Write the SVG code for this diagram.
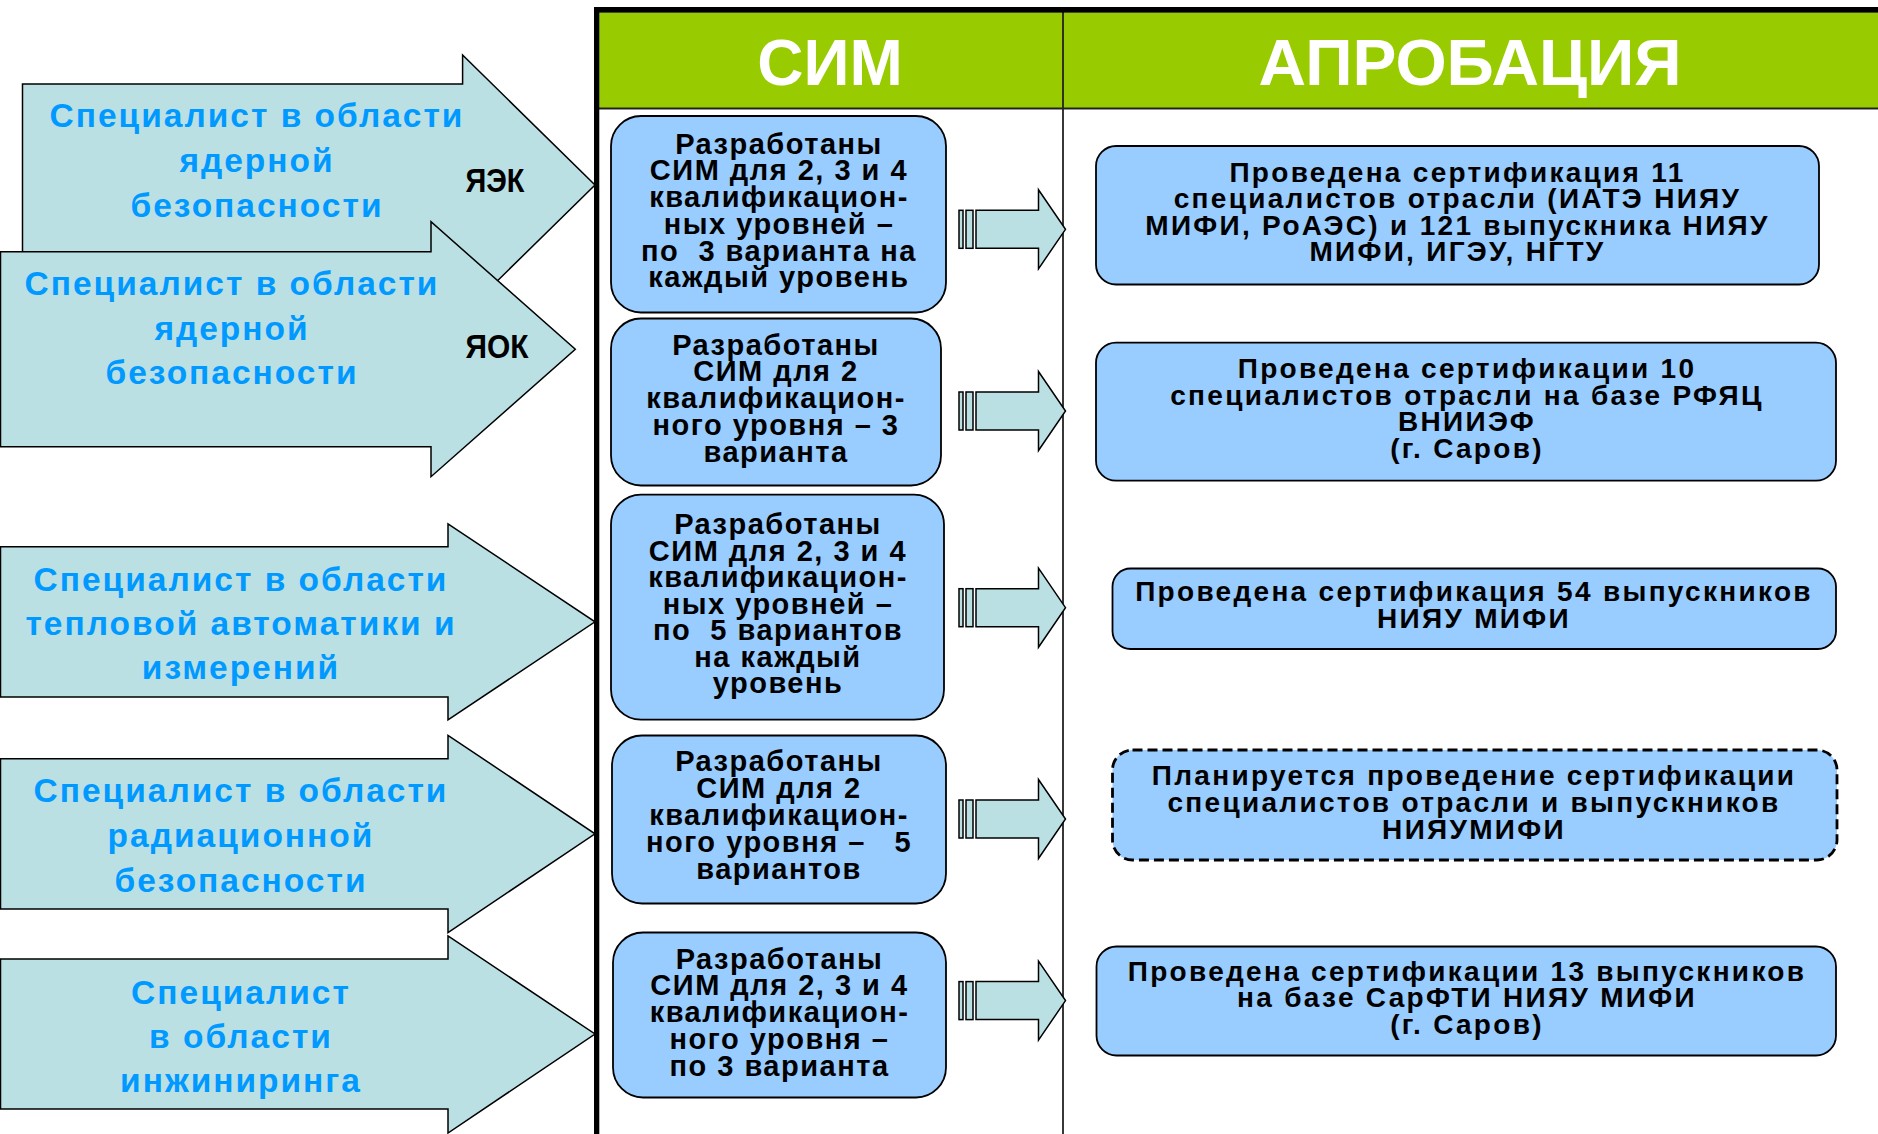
<svg xmlns="http://www.w3.org/2000/svg" width="1878" height="1134" viewBox="0 0 1878 1134">
<style>
text { font-family: "Liberation Sans", Arial, sans-serif; font-weight: bold; text-anchor: middle; white-space: pre; }
.la { fill: #BBE0E3; stroke: #000; stroke-width: 1.5; }
.lt { font-size: 33.5px; fill: #0099FF; letter-spacing: 2px; }
.code { font-family: "Liberation Sans Narrow", "Liberation Sans", Arial, sans-serif; font-size: 33px; fill: #000; }
.hd { font-size: 64px; fill: #fff; }
.sb { fill: #99CCFF; stroke: #000; stroke-width: 1.8; }
.st { font-size: 29px; fill: #000; letter-spacing: 1.5px; }
.rt { font-size: 28px; fill: #000; letter-spacing: 2.3px; }
.dash { stroke-dasharray: 10 5; stroke-width: 2.8; }
.ar { fill: #BBE0E3; stroke: #000; stroke-width: 1.5; }
</style>

<g id="left-arrows">
  <g id="arrow-yaek">
    <polygon class="la" points="22.5,84 462.6,84 462.6,55 595,185 462.6,315 462.6,286 22.5,286"/>
    <text class="lt" x="257" y="127">Специалист в области</text>
    <text class="lt" x="257" y="172">ядерной</text>
    <text class="lt" x="257" y="217">безопасности</text>
    <text class="code" x="495" y="192" textLength="59" lengthAdjust="spacingAndGlyphs">ЯЭК</text>
  </g>
  <g id="arrow-yaok">
    <polygon class="la" points="0.5,251.7 431,251.7 431,221.7 575.3,349.3 431,476.7 431,446.7 0.5,446.7"/>
    <text class="lt" x="232" y="295">Специалист в области</text>
    <text class="lt" x="232" y="340">ядерной</text>
    <text class="lt" x="232" y="384">безопасности</text>
    <text class="code" x="497" y="358" textLength="63" lengthAdjust="spacingAndGlyphs">ЯОК</text>
  </g>
  <g id="arrow-thermal">
    <polygon class="la" points="0.5,546.8 448,546.8 448,523.8 595,621.8 448,719.9 448,697 0.5,697"/>
    <text class="lt" x="241" y="591">Специалист в области</text>
    <text class="lt" x="241" y="635">тепловой автоматики и</text>
    <text class="lt" x="241" y="679">измерений</text>
  </g>
  <g id="arrow-radiation">
    <polygon class="la" points="0.5,758.7 448,758.7 448,735.3 595,833.8 448,932.6 448,908.9 0.5,908.9"/>
    <text class="lt" x="241" y="802">Специалист в области</text>
    <text class="lt" x="241" y="847">радиационной</text>
    <text class="lt" x="241" y="892">безопасности</text>
  </g>
  <g id="arrow-engineering">
    <polygon class="la" points="0.5,959 448,959 448,936 595,1034 448,1133 448,1109 0.5,1109"/>
    <text class="lt" x="241" y="1004">Специалист</text>
    <text class="lt" x="241" y="1048">в области</text>
    <text class="lt" x="241" y="1092">инжиниринга</text>
  </g>
</g>

<g id="table">
  <rect x="599" y="12.7" width="1279" height="95.5" fill="#99CC00"/>
  <line x1="599" y1="108.5" x2="1878" y2="108.5" stroke="#222" stroke-width="1.8"/>
  <line x1="1063" y1="12" x2="1063" y2="1134" stroke="#222" stroke-width="1.8"/>
  <rect x="594" y="7" width="1284" height="5.7" fill="#000"/>
  <rect x="594" y="7" width="5.3" height="1127" fill="#000"/>
  <text class="hd" x="830" y="85">СИМ</text>
  <text class="hd" x="1470" y="85" textLength="423" lengthAdjust="spacingAndGlyphs">АПРОБАЦИЯ</text>
</g>

<g id="sim-1">
  <rect class="sb" x="611" y="116" width="335" height="196.5" rx="30"/>
  <text class="st" x="779" y="153.5">Разработаны</text>
  <text class="st" x="779" y="180.3">СИМ для 2, 3 и 4</text>
  <text class="st" x="779" y="207">квалификацион-</text>
  <text class="st" x="779" y="233.8">ных уровней –</text>
  <text class="st" x="779" y="260.5">по  3 варианта на</text>
  <text class="st" x="779" y="287.2">каждый уровень</text>
</g>
<g id="sim-2">
  <rect class="sb" x="611" y="318.5" width="330" height="167" rx="30"/>
  <text class="st" x="776" y="354.5">Разработаны</text>
  <text class="st" x="776" y="381.2">СИМ для 2</text>
  <text class="st" x="776" y="408">квалификацион-</text>
  <text class="st" x="776" y="434.8">ного уровня – 3</text>
  <text class="st" x="776" y="461.5">варианта</text>
</g>
<g id="sim-3">
  <rect class="sb" x="611" y="494.6" width="333" height="225" rx="30"/>
  <text class="st" x="778" y="534">Разработаны</text>
  <text class="st" x="778" y="560.5">СИМ для 2, 3 и 4</text>
  <text class="st" x="778" y="587">квалификацион-</text>
  <text class="st" x="778" y="613.5">ных уровней –</text>
  <text class="st" x="778" y="640">по  5 вариантов</text>
  <text class="st" x="778" y="666.5">на каждый</text>
  <text class="st" x="778" y="693">уровень</text>
</g>
<g id="sim-4">
  <rect class="sb" x="612" y="735.5" width="334" height="168" rx="30"/>
  <text class="st" x="779" y="771">Разработаны</text>
  <text class="st" x="779" y="798">СИМ для 2</text>
  <text class="st" x="779" y="825">квалификацион-</text>
  <text class="st" x="779" y="852">ного уровня –   5</text>
  <text class="st" x="779" y="879">вариантов</text>
</g>
<g id="sim-5">
  <rect class="sb" x="613" y="932.5" width="333" height="165" rx="30"/>
  <text class="st" x="779.5" y="968.5">Разработаны</text>
  <text class="st" x="779.5" y="995.3">СИМ для 2, 3 и 4</text>
  <text class="st" x="779.5" y="1022">квалификацион-</text>
  <text class="st" x="779.5" y="1048.8">ного уровня –</text>
  <text class="st" x="779.5" y="1075.5">по 3 варианта</text>
</g>

<g id="connectors">
  <g id="conn-1" transform="translate(0,229.3)">
    <rect class="ar" x="959" y="-19" width="4" height="38"/>
    <rect class="ar" x="966" y="-19" width="7" height="38"/>
    <polygon class="ar" points="976,-19 1038.5,-19 1038.5,-39.5 1065.5,0 1038.5,39.5 1038.5,19 976,19"/>
  </g>
  <g id="conn-2" transform="translate(0,411)">
    <rect class="ar" x="959" y="-19" width="4" height="38"/>
    <rect class="ar" x="966" y="-19" width="7" height="38"/>
    <polygon class="ar" points="976,-19 1038.5,-19 1038.5,-39.5 1065.5,0 1038.5,39.5 1038.5,19 976,19"/>
  </g>
  <g id="conn-3" transform="translate(0,607.7)">
    <rect class="ar" x="959" y="-19" width="4" height="38"/>
    <rect class="ar" x="966" y="-19" width="7" height="38"/>
    <polygon class="ar" points="976,-19 1038.5,-19 1038.5,-39.5 1065.5,0 1038.5,39.5 1038.5,19 976,19"/>
  </g>
  <g id="conn-4" transform="translate(0,819)">
    <rect class="ar" x="959" y="-19" width="4" height="38"/>
    <rect class="ar" x="966" y="-19" width="7" height="38"/>
    <polygon class="ar" points="976,-19 1038.5,-19 1038.5,-39.5 1065.5,0 1038.5,39.5 1038.5,19 976,19"/>
  </g>
  <g id="conn-5" transform="translate(0,1000.6)">
    <rect class="ar" x="959" y="-19" width="4" height="38"/>
    <rect class="ar" x="966" y="-19" width="7" height="38"/>
    <polygon class="ar" points="976,-19 1038.5,-19 1038.5,-39.5 1065.5,0 1038.5,39.5 1038.5,19 976,19"/>
  </g>
</g>

<g id="apr-1">
  <rect class="sb" x="1096" y="146" width="723" height="138.5" rx="20"/>
  <text class="rt" x="1457.5" y="181.7">Проведена сертификация 11</text>
  <text class="rt" x="1457.5" y="208.2">специалистов отрасли (ИАТЭ НИЯУ</text>
  <text class="rt" x="1457.5" y="234.8">МИФИ, РоАЭС) и 121 выпускника НИЯУ</text>
  <text class="rt" x="1457.5" y="261.3">МИФИ, ИГЭУ, НГТУ</text>
</g>
<g id="apr-2">
  <rect class="sb" x="1096" y="342.7" width="740" height="138" rx="20"/>
  <text class="rt" x="1467" y="378.3">Проведена сертификации 10</text>
  <text class="rt" x="1467" y="404.8">специалистов отрасли на базе РФЯЦ</text>
  <text class="rt" x="1467" y="431.3">ВНИИЭФ</text>
  <text class="rt" x="1467" y="458">(г. Саров)</text>
</g>
<g id="apr-3">
  <rect class="sb" x="1112.5" y="568.5" width="723.5" height="80.5" rx="18"/>
  <text class="rt" x="1474" y="601.3">Проведена сертификация 54 выпускников</text>
  <text class="rt" x="1474" y="628">НИЯУ МИФИ</text>
</g>
<g id="apr-4">
  <rect class="sb dash" x="1112.5" y="750" width="724.5" height="110" rx="20"/>
  <text class="rt" x="1474" y="784.8">Планируется проведение сертификации</text>
  <text class="rt" x="1474" y="811.8">специалистов отрасли и выпускников</text>
  <text class="rt" x="1474" y="838.8">НИЯУМИФИ</text>
</g>
<g id="apr-5">
  <rect class="sb" x="1096.5" y="946.5" width="739.5" height="109" rx="20"/>
  <text class="rt" x="1467" y="980.5">Проведена сертификации 13 выпускников</text>
  <text class="rt" x="1467" y="1007">на базе СарФТИ НИЯУ МИФИ</text>
  <text class="rt" x="1467" y="1034">(г. Саров)</text>
</g>
</svg>
